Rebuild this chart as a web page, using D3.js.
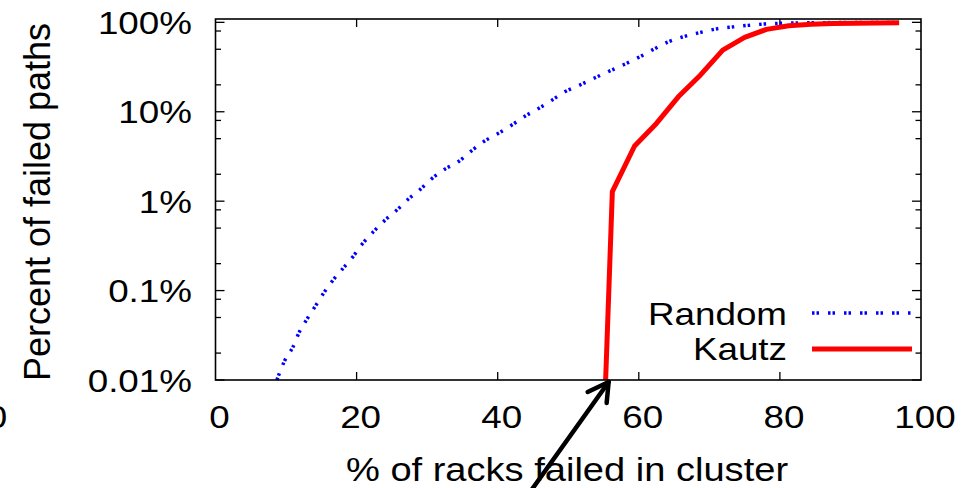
<!DOCTYPE html>
<html>
<head>
<meta charset="utf-8">
<script src="https://cdn.jsdelivr.net/npm/d3@7"></script>
<style>
  html, body { margin: 0; padding: 0; background: #fff; }
  svg { display: block; }
</style>
</head>
<body>
<div id="chart"></div>
<script>
// % of racks failed vs percent of failed paths (log scale)
const randomX = [8.7, 9.85, 11.0, 11.9, 12.9, 14.1, 15.3, 16.5, 18.1, 19.5, 20.7, 22.4, 23.8, 25.7, 27.3, 29.0, 30.6, 32.5, 34.4, 36.1, 38.0, 40.1, 42.0, 43.9, 45.8, 47.7, 49.5, 51.7, 53.8, 55.9, 58.0, 60.2, 62.1, 64.2, 66.3, 68.7, 71.0, 73.4, 75.5, 77.9, 81, 85, 90, 96.9];
const randomY = [0.01, 0.0167, 0.0236, 0.0347, 0.047, 0.066, 0.093, 0.126, 0.178, 0.24, 0.324, 0.457, 0.59, 0.795, 1.05, 1.35, 1.77, 2.28, 2.76, 3.56, 4.63, 5.74, 7.1, 8.96, 10.9, 13.5, 16.7, 20, 24, 28.6, 34, 41.4, 50, 60.7, 69, 77, 84.5, 89, 92.5, 96, 98, 99, 99.5, 99.7];

const kautzX = [55.3, 56.25, 59.4, 62.5, 65.6, 68.75, 71.9, 75, 78.1, 81.25, 84.4, 87.5, 90.6, 93.75, 96.9];
const kautzY = [0.01, 1.28, 4.14, 7.4, 14.7, 25.8, 49, 68, 83.5, 91.5, 95, 97, 98, 98.5, 99];

const xTicks = [0, 20, 40, 60, 80, 100];
const yTicks = [0.01, 0.1, 1, 10, 100];
const yTickLabels = ['0.01%', '0.1%', '1%', '10%', '100%'];
const yMinor = [2, 5, 8];

const W = 977, H = 488;
const margin = { top: 19, right: 56, bottom: 108, left: 215.5 };
const pw = W - margin.left - margin.right;
const ph = H - margin.top - margin.bottom;
const font = "'Liberation Sans', Arial, Helvetica, sans-serif";

const svg = d3.select('#chart').append('svg')
  .attr('width', W)
  .attr('height', H);

const x = d3.scaleLinear().domain([0, 100]).range([margin.left, margin.left + pw]);
const y = d3.scaleLog().domain([0.01, 109]).range([margin.top + ph, margin.top]);

function label(g, px, py, txt, anchor, size, sx = 1.15) {
  return g.append('text')
    .attr('transform', `translate(${px},${py}) scale(${sx},1)`)
    .attr('text-anchor', anchor)
    .style('font', `${size}px ${font}`)
    .attr('fill', '#000')
    .text(txt);
}

// ticks (inward, mirrored on all sides)
const tickG = svg.append('g').attr('stroke', '#000').attr('stroke-width', 1.3);
xTicks.slice(1, -1).forEach((t) => {
  tickG.append('line').attr('x1', x(t)).attr('x2', x(t))
    .attr('y1', y.range()[0]).attr('y2', y.range()[0] - 8);
  tickG.append('line').attr('x1', x(t)).attr('x2', x(t))
    .attr('y1', y.range()[1]).attr('y2', y.range()[1] + 8);
});
yTicks.forEach((t) => {
  [[x.range()[0], 9], [x.range()[1], -9]].forEach(([x0, len]) => {
    tickG.append('line').attr('x1', x0).attr('x2', x0 + len)
      .attr('y1', y(t)).attr('y2', y(t));
  });
  yMinor.forEach((m) => {
    const v = t * m;
    if (v > y.domain()[1]) return;
    [[x.range()[0], 5.5], [x.range()[1], -5.5]].forEach(([x0, len]) => {
      tickG.append('line').attr('x1', x0).attr('x2', x0 + len)
        .attr('y1', y(v)).attr('y2', y(v));
    });
  });
});

// tick labels
xTicks.forEach((t) => label(svg, x(t) + 4, 428, t, 'middle', 32));
yTicks.forEach((t, i) => label(svg, 192, y(t) + 11.5, yTickLabels[i], 'end', 32));

// stray label from neighbouring figure
label(svg, -3, 428, '0', 'middle', 32);

// axis titles
label(svg, 567, 481, '% of racks failed in cluster', 'middle', 34, 1.12);
svg.append('text')
  .attr('transform', 'translate(49.5,202) rotate(-90)')
  .attr('text-anchor', 'middle')
  .style('font', `36px ${font}`)
  .text('Percent of failed paths');

// series
const line = d3.line()
  .x((d) => x(d[0]))
  .y((d) => y(d[1]));

svg.append('path')
  .datum(randomX.map((v, i) => [v, randomY[i]]))
  .attr('fill', 'none')
  .attr('stroke', '#0000ff')
  .attr('stroke-width', 3.5)
  .attr('stroke-dasharray', '2.5,2,2.5,9')
  .attr('d', line.curve(d3.curveMonotoneX));

svg.append('path')
  .datum(kautzX.map((v, i) => [v, kautzY[i]]))
  .attr('fill', 'none')
  .attr('stroke', '#ff0000')
  .attr('stroke-width', 5)
  .attr('stroke-linejoin', 'round')
  .attr('d', line.curve(d3.curveLinear));

// frame
svg.append('rect')
  .attr('x', margin.left)
  .attr('y', margin.top)
  .attr('width', pw)
  .attr('height', ph)
  .attr('fill', 'none')
  .attr('stroke', '#000')
  .attr('stroke-width', 1.6);

// legend
const legend = [
  { name: 'Random', color: '#0000ff', width: 3.5, dash: '2.5,2,2.5,9', ty: 325, ly: 313 },
  { name: 'Kautz', color: '#ff0000', width: 5, dash: null, ty: 360, ly: 349 },
];
legend.forEach((d) => {
  label(svg, 787, d.ty, d.name, 'end', 32);
  svg.append('line')
    .attr('x1', 812).attr('x2', 912)
    .attr('y1', d.ly).attr('y2', d.ly)
    .attr('stroke', d.color)
    .attr('stroke-width', d.width)
    .attr('stroke-dasharray', d.dash);
});

// arrow pointing at where Kautz first shows failed paths
const tipX = x(kautzX[0]) + 3, tipY = y(kautzY[0]) + 2;
const arrow = svg.append('g')
  .attr('stroke', '#000')
  .attr('stroke-width', 4.5)
  .attr('stroke-linecap', 'round')
  .attr('fill', 'none');
arrow.append('line')
  .attr('x1', tipX - 80).attr('y1', tipY + 112)
  .attr('x2', tipX).attr('y2', tipY);
arrow.append('path')
  .attr('d', `M${tipX - 21},${tipY + 10} L${tipX},${tipY} L${tipX - 2},${tipY + 21}`)
  .attr('stroke-linejoin', 'round');
</script>
</body>
</html>
